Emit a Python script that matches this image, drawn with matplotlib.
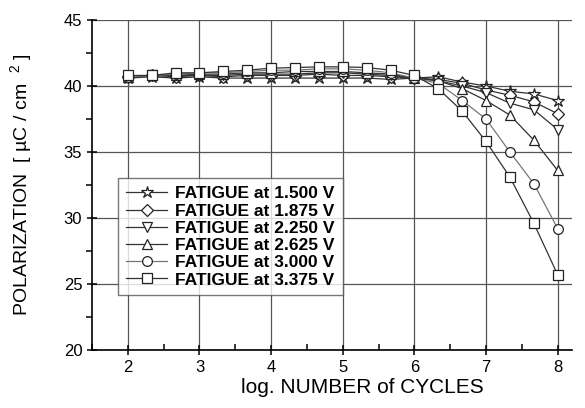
#!/usr/bin/env python3
# -*- coding: utf-8 -*-

"""Polarization fatigue vs. log number of switching cycles for six drive voltages."""

import matplotlib
matplotlib.use("Agg")
import matplotlib.pyplot as plt
from matplotlib.ticker import MultipleLocator

plt.rcParams["font.family"] = ["Liberation Sans", "DejaVu Sans"]

# ============================
# Data
# ============================
LOG_CYCLES = [2.0, 2.333, 2.667, 3.0, 3.333, 3.667, 4.0, 4.333, 4.667, 5.0,
              5.333, 5.667, 6.0, 6.333, 6.667, 7.0, 7.333, 7.667, 8.0]

P_1500 = [40.6, 40.7, 40.6, 40.7, 40.6, 40.6, 40.6, 40.6, 40.6, 40.6,
          40.6, 40.5, 40.6, 40.7, 40.3, 40.0, 39.6, 39.4, 38.9]
P_1875 = [40.7, 40.8, 40.7, 40.8, 40.7, 40.8, 40.8, 40.8, 40.9, 40.8,
          40.8, 40.7, 40.6, 40.5, 40.2, 39.7, 39.3, 38.8, 37.9]
P_2250 = [40.7, 40.8, 40.8, 40.8, 40.8, 40.9, 40.9, 40.9, 41.0, 41.0,
          40.9, 40.8, 40.6, 40.4, 40.0, 39.5, 38.7, 38.2, 36.7]
P_2625 = [40.7, 40.8, 40.8, 40.9, 40.9, 41.0, 41.0, 41.1, 41.1, 41.1,
          41.0, 40.9, 40.6, 40.4, 39.8, 38.9, 37.8, 35.9, 33.6]
P_3000 = [40.7, 40.8, 40.9, 41.0, 41.0, 41.1, 41.2, 41.2, 41.3, 41.3,
          41.2, 41.0, 40.6, 40.2, 38.9, 37.5, 35.0, 32.6, 29.2]
P_3375 = [40.8, 40.8, 41.0, 41.0, 41.1, 41.2, 41.35, 41.4, 41.45, 41.45,
          41.4, 41.2, 40.8, 39.8, 38.1, 35.8, 33.1, 29.6, 25.7]

LABELS = ["FATIGUE at 1.500 V", "FATIGUE at 1.875 V", "FATIGUE at 2.250 V",
          "FATIGUE at 2.625 V", "FATIGUE at 3.000 V", "FATIGUE at 3.375 V"]
SERIES = [P_1500, P_1875, P_2250, P_2625, P_3000, P_3375]
MARKERS = ["*", "D", "v", "^", "o", "s"]
MSIZES = [9, 6, 7, 7, 7, 6.5]
LINE_COLORS = ["#333333", "#333333", "#333333", "#333333", "#777777", "#333333"]


def main():
    fig = plt.figure(figsize=(5.85, 4.08), dpi=100)
    ax = fig.add_axes([92 / 585, 58 / 408, 480 / 585, 330 / 408])

    for ys, lab, mk, ms, lc in zip(SERIES, LABELS, MARKERS, MSIZES, LINE_COLORS):
        ax.plot(LOG_CYCLES, ys, color=lc, lw=0.9, marker=mk, ms=ms,
                mfc="white", mec="#222222", mew=0.9, label=lab)

    ax.set_xlim(1.5, 8.2)
    ax.set_ylim(20, 45)
    ax.xaxis.set_major_locator(MultipleLocator(1))
    ax.xaxis.set_minor_locator(MultipleLocator(0.5))
    ax.yaxis.set_major_locator(MultipleLocator(5))
    ax.yaxis.set_minor_locator(MultipleLocator(2.5))

    ax.grid(True, which="major", color="#555555", lw=0.9)
    ax.set_axisbelow(True)

    for side in ["top", "right"]:
        ax.spines[side].set_visible(False)
    for side in ["left", "bottom"]:
        ax.spines[side].set_linewidth(1.2)

    ax.tick_params(axis="x", which="major", direction="inout", length=7, width=1.1, labelsize=12)
    ax.tick_params(axis="x", which="minor", direction="in", length=4, width=1.1)
    ax.tick_params(axis="y", which="major", direction="inout", length=7, width=1.1, labelsize=12)
    ax.tick_params(axis="y", which="minor", direction="out", length=4, width=1.1)

    ax.set_xlabel("log. NUMBER of CYCLES", fontsize=15)
    ax.xaxis.set_label_coords(0.5625, -0.085)
    ax.set_ylabel(r"POLARIZATION  [ µC / cm  $^{\mathregular{2}}$ ]", fontsize=14)
    ax.yaxis.set_label_coords(-0.118, 0.5)

    leg = ax.legend(loc="upper left", bbox_to_anchor=(0.054, 0.52),
                    prop={"weight": "bold", "size": 12.5}, frameon=True, fancybox=False,
                    edgecolor="#555555", handlelength=2.4, borderpad=0.45,
                    labelspacing=0.12, handletextpad=0.45, borderaxespad=0)
    leg.get_frame().set_linewidth(1.0)

    fig.savefig("out.png", dpi=100, facecolor="white")
    plt.close(fig)


if __name__ == "__main__":
    main()
